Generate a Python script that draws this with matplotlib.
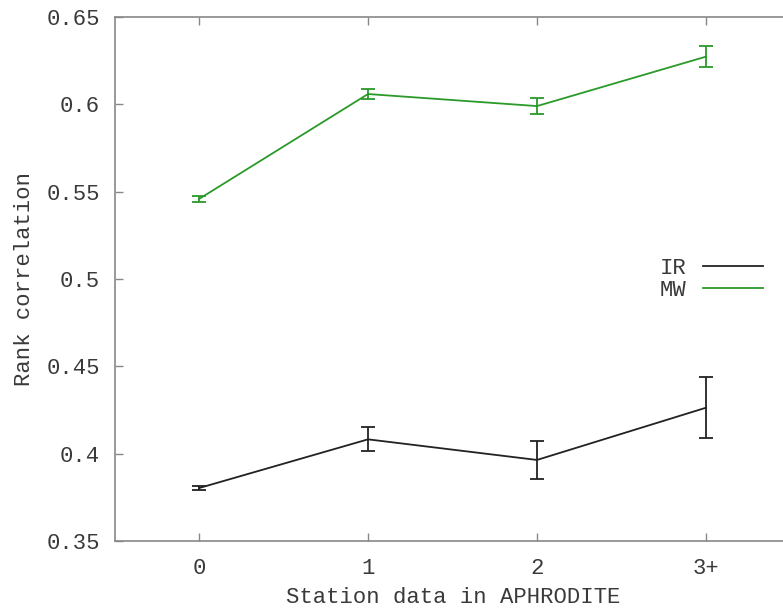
import matplotlib
matplotlib.use("Agg")
import matplotlib.pyplot as plt
from matplotlib.lines import Line2D

categories = ["0", "1", "2", "3+"]
ir_values = [0.3803, 0.4082, 0.3964, 0.4263]
ir_errors = [0.0012, 0.0069, 0.0108, 0.0175]
mw_values = [0.5458, 0.6059, 0.5990, 0.6273]
mw_errors = [0.0017, 0.0026, 0.0045, 0.0059]
y_ticks = [0.35, 0.4, 0.45, 0.5, 0.55, 0.6, 0.65]
y_tick_labels = ["0.35", "0.4", "0.45", "0.5", "0.55", "0.6", "0.65"]

plt.rcParams['font.family'] = ['Liberation Mono', 'DejaVu Sans Mono']

fig = plt.figure(figsize=(7.83, 6.11), dpi=100)
ax = fig.add_axes([115/783, 70/611, (783-115)/783, 524/611])

x = list(range(len(categories)))
ir_color = "#222222"
mw_color = "#2a9a2a"

ax.errorbar(x, ir_values, yerr=ir_errors, color=ir_color, lw=1.3,
            capsize=5, capthick=1.3, elinewidth=1.3, label="IR")
ax.errorbar(x, mw_values, yerr=mw_errors, color=mw_color, lw=1.3,
            capsize=5, capthick=1.3, elinewidth=1.3, label="MW")

ax.set_xlim(-0.497, 3 + (783 - 706) / 169)
ax.set_ylim(0.35, 0.65)
ax.set_xticks(x)
ax.set_xticklabels(categories)
ax.set_yticks(y_ticks)
ax.set_yticklabels(y_tick_labels)

frame = "#888888"
for s in ["left", "top", "bottom"]:
    ax.spines[s].set_color(frame)
    ax.spines[s].set_linewidth(1.2)
ax.spines["right"].set_visible(False)

ax.tick_params(axis="both", direction="in", length=6, width=1, color=frame,
               labelsize=16, labelcolor="#3a3a3a")
ax.tick_params(axis="x", top=True, pad=12)
ax.tick_params(axis="y", right=False, pad=11)

ax.set_xlabel("Station data in APHRODITE", fontsize=16, color="#3a3a3a")
ax.xaxis.set_label_coords(0.5067, -0.088)
ax.set_ylabel("Rank correlation", fontsize=16, color="#3a3a3a")
ax.yaxis.set_label_coords(-0.120, 0.5)

h = [Line2D([], [], color=ir_color, lw=1.3), Line2D([], [], color=mw_color, lw=1.3)]
leg = ax.legend(h, ["IR", "MW"], loc="center right", bbox_to_anchor=(0.970, 0.499),
                frameon=False, markerfirst=False, fontsize=16, handlelength=2.7,
                handletextpad=0.75, labelspacing=0.05, borderpad=0, borderaxespad=0)
for t in leg.get_texts():
    t.set_color("#3a3a3a")

fig.savefig("out.png", dpi=100)
